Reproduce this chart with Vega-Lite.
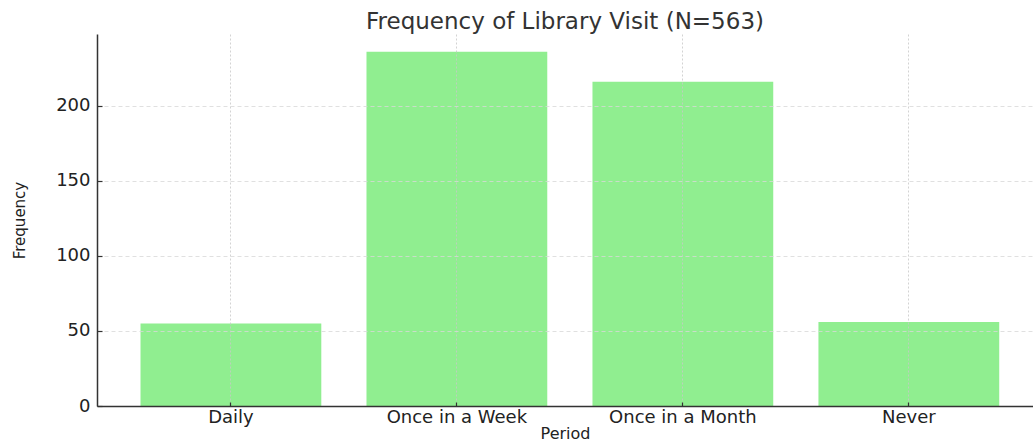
{
  "$schema": "https://vega.github.io/schema/vega-lite/v6.json",
  "width": 936,
  "height": 372,
  "autosize": {"type": "none"},
  "padding": {"left": 97, "top": 34, "right": 0, "bottom": 35},
  "background": "white",
  "title": {
    "text": "Frequency of Library Visit (N=563)",
    "font": "DejaVu Sans",
    "fontSize": 23,
    "fontWeight": "normal",
    "color": "#333333",
    "anchor": "middle",
    "baseline": "alphabetic",
    "offset": 6,
    "dy": 24,
    "frame": "group"
  },
  "data": {
    "values": [
      {"period": "Daily", "frequency": 55},
      {"period": "Once in a Week", "frequency": 236},
      {"period": "Once in a Month", "frequency": 216},
      {"period": "Never", "frequency": 56}
    ]
  },
  "mark": {"type": "bar", "color": "#90EE90"},
  "encoding": {
    "x": {
      "field": "period",
      "type": "nominal",
      "sort": null,
      "title": "Period",
      "scale": {"paddingInner": 0.2, "paddingOuter": 0.171, "align": 0.563},
      "axis": {
        "labelAngle": 0,
        "labelFont": "DejaVu Sans",
        "labelFontSize": 18,
        "labelColor": "#222222",
        "labelPadding": 6,
        "titleFont": "DejaVu Sans",
        "titleFontSize": 16,
        "titleFontWeight": "normal",
        "titleColor": "#222222",
        "titlePadding": -1,
        "domainColor": "#333333",
        "domainWidth": 1.5,
        "ticks": true,
        "tickSize": -4,
        "tickColor": "#333333",
        "tickWidth": 1.2,
        "grid": true,
        "gridColor": "#c8c8c8",
        "gridDash": [2, 2],
        "gridWidth": 0.8,
        "zindex": 1
      }
    },
    "y": {
      "field": "frequency",
      "type": "quantitative",
      "title": "Frequency",
      "scale": {"domain": [0, 247.8], "nice": false},
      "axis": {
        "values": [0, 50, 100, 150, 200],
        "labelFont": "DejaVu Sans",
        "labelFontSize": 18,
        "labelColor": "#222222",
        "labelPadding": 12,
        "titleFont": "DejaVu Sans",
        "titleFontSize": 15,
        "titleFontWeight": "normal",
        "titleColor": "#222222",
        "titlePadding": 28,
        "domainColor": "#333333",
        "domainWidth": 1.5,
        "ticks": true,
        "tickSize": -5,
        "tickColor": "#333333",
        "tickWidth": 1.2,
        "grid": true,
        "gridColor": "#d8d8d8",
        "gridDash": [4, 3],
        "gridWidth": 0.8,
        "zindex": 1
      }
    }
  },
  "config": {"view": {"stroke": null}}
}
